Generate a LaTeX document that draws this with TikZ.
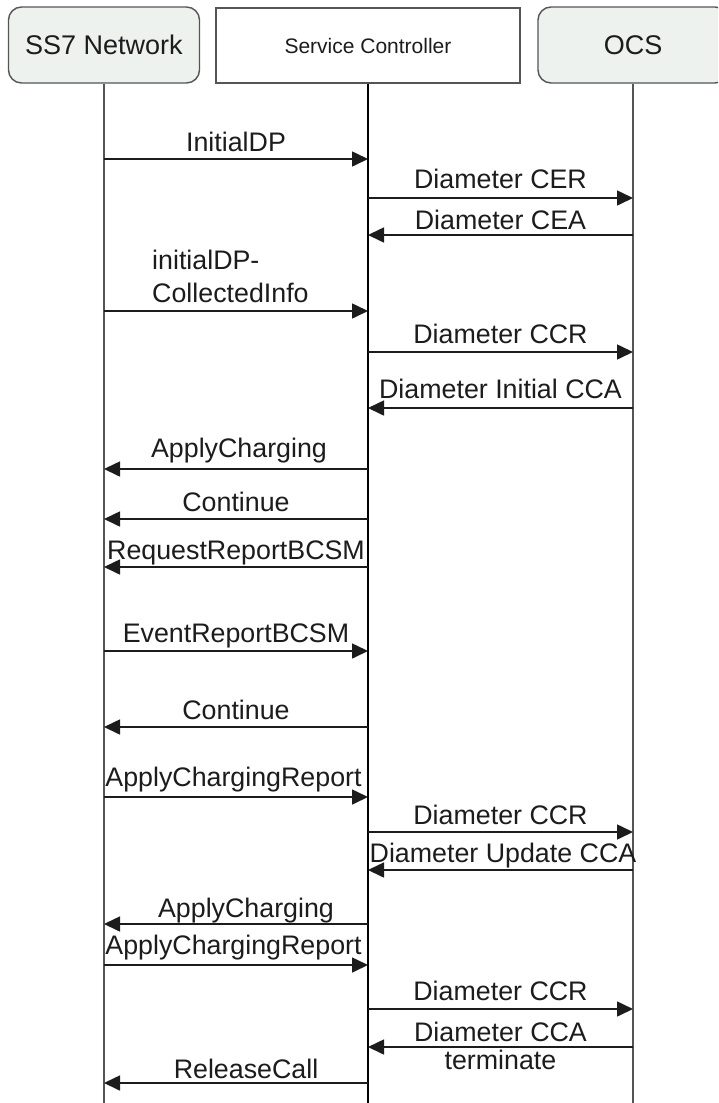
\documentclass[tikz,border=0pt]{standalone}
\usepackage{fontspec}
\setmainfont{Liberation Sans}
\usetikzlibrary{arrows.meta,calc}

\definecolor{inkdark}{HTML}{1C1C1C}
\definecolor{linegray}{HTML}{333333}
\definecolor{lifegray}{HTML}{555555}
\definecolor{boxfill}{HTML}{EEF2EE}
\definecolor{boxedge}{HTML}{555555}

\tikzset{
  actor/.style={draw=boxedge, line width=1.4pt, fill=boxfill, rounded corners=13pt,
    minimum height=76pt, inner sep=0pt, text=inkdark,
    font=\fontsize{27}{30}\selectfont},
  ctrlbox/.style={draw=boxedge, line width=1.4pt, fill=white,
    minimum height=75pt, inner sep=0pt, text=inkdark,
    font=\fontsize{21}{24}\selectfont},
  life/.style={draw=lifegray, line width=1.3pt},
  ctrllife/.style={draw=black, line width=1.6pt},
  msg/.style={draw=linegray, line width=1.6pt,
    -{Triangle[length=16pt,width=15pt]}, inkdark},
  lbl/.style={inner sep=0pt, anchor=base, text=inkdark,
    font=\fontsize{26.8}{29}\selectfont}
}

% #1 sender, #2 receiver, #3 arrow y, #4 label baseline y, #5 text
\newcommand{\sendmsg}[5]{%
  \draw[msg] (#1 |- 0,#3) -- (#2 |- 0,#3);
  \node[lbl] (m#3) at ($(#1 |- 0,#4)!0.5!(#2 |- 0,#4)$) {#5};}
% same, with the label centred at a given x (#6)
\newcommand{\sendmsgat}[6]{%
  \draw[msg] (#1 |- 0,#3) -- (#2 |- 0,#3);
  \node[lbl] (m#3) at (#6,#4) {#5};}

\begin{document}
\begin{tikzpicture}[x=1pt,y=-1pt]
  \clip (0,0) rectangle (718,1103);
  \fill[white] (0,0) rectangle (718,1103);

  % participants
  \node[actor, minimum width=191pt] (ss7) at (104,45) {SS7 Network};
  \node[ctrlbox, minimum width=304pt] (sc) at (368,45.5) {Service Controller};
  \node[actor, minimum width=190pt] (ocs) at (633,45) {OCS};

  % lifelines
  \coordinate (ss7end) at (104,1110);
  \coordinate (scend) at (368,1110);
  \coordinate (ocsend) at (633,1110);
  \draw[life] (ss7.south) -- (ss7end);
  \draw[ctrllife] (sc.south) -- (scend);
  \draw[life] (ocs.south) -- (ocsend);

  % message flow
  \sendmsg{ss7}{sc}{159}{151}{InitialDP}
  \sendmsg{sc}{ocs}{198}{188}{Diameter CER}
  \sendmsg{ocs}{sc}{235}{229}{Diameter CEA}

  \draw[msg] (ss7 |- 0,311) -- (sc |- 0,311);
  \node[lbl, anchor=south west, align=left, font=\fontsize{26.8}{33}\selectfont]
    (collected) at (152,303) {initialDP-\\CollectedInfo};

  \sendmsg{sc}{ocs}{352}{343}{Diameter CCR}
  \sendmsg{ocs}{sc}{408}{398}{Diameter Initial CCA}
  \sendmsgat{sc}{ss7}{469}{457}{ApplyCharging}{239}
  \sendmsg{sc}{ss7}{519}{511}{Continue}
  \sendmsg{sc}{ss7}{567}{559}{RequestReportBCSM}
  \sendmsg{ss7}{sc}{651}{642}{EventReportBCSM}
  \sendmsg{sc}{ss7}{727}{719}{Continue}
  \sendmsgat{ss7}{sc}{797}{786}{ApplyChargingReport}{233.5}
  \sendmsg{sc}{ocs}{832}{824}{Diameter CCR}
  \sendmsgat{ocs}{sc}{870}{862}{Diameter Update CCA}{503}
  \sendmsgat{sc}{ss7}{924}{917}{ApplyCharging}{246}
  \sendmsgat{ss7}{sc}{965}{954}{ApplyChargingReport}{233.5}
  \sendmsg{sc}{ocs}{1009}{1000}{Diameter CCR}

  \draw[msg] (ocs |- 0,1047) -- (sc |- 0,1047);
  \node[lbl, anchor=south, align=center, font=\fontsize{26.8}{28}\selectfont]
    (terminate) at (500.5,1070) {Diameter CCA\\terminate};

  \sendmsgat{sc}{ss7}{1083}{1078}{ReleaseCall}{246}
\end{tikzpicture}
\end{document}
